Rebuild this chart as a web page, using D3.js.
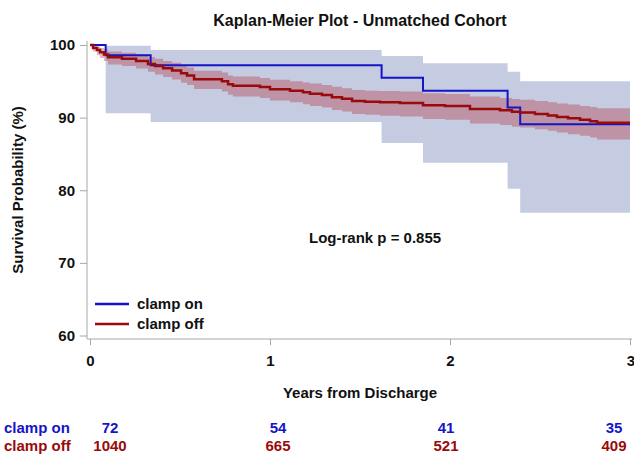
<!DOCTYPE html>
<html>
<head>
<meta charset="utf-8">
<script src="https://cdn.jsdelivr.net/npm/d3@7"></script>
<style>
  body { margin: 0; background: #fff; }
  text { font-family: "Liberation Sans", Arial, sans-serif; font-weight: bold; }
</style>
</head>
<body>
<svg id="canvas" width="634" height="455"></svg>
<script>
const svg = d3.select("#canvas");

// clamp on (n=72) - KM estimate and CI
const onTimes = [0, 0.087, 0.337, 1.62, 1.85, 2.32, 2.39];
const onSurv  = [100, 98.6, 97.2, 95.5, 93.7, 91.4, 89.1];
const onLower = [100, 90.6, 89.4, 86.5, 83.8, 80.2, 76.9];
const onUpper = [100, 99.9, 99.3, 98.5, 97.5, 96.3, 95.0];

// clamp off (n=1040)
const offTimes = [0, 0.017, 0.039, 0.056, 0.078, 0.1, 0.178, 0.256, 0.322, 0.361, 0.406, 0.456, 0.506, 0.539, 0.578,
  0.733, 0.767, 0.794, 0.944, 1.0, 1.111, 1.183, 1.222, 1.289, 1.344, 1.4, 1.456, 1.528, 1.611, 1.722, 1.85,
  1.972, 2.111, 2.278, 2.344, 2.389, 2.472, 2.544, 2.594, 2.656, 2.722, 2.778, 2.817];
const offSurv = [100, 99.6, 99.3, 99.0, 98.7, 98.3, 98.1, 97.8, 97.4, 97.1, 96.8, 96.5, 96.1, 95.8, 95.3,
  95.0, 94.6, 94.4, 94.2, 93.9, 93.7, 93.5, 93.3, 93.1, 92.8, 92.6, 92.3, 92.2, 92.1, 92.0, 91.7,
  91.6, 91.2, 91.0, 90.8, 90.7, 90.5, 90.3, 90.1, 89.9, 89.7, 89.5, 89.3];
const offUpper = [100, 99.9, 99.8, 99.6, 99.4, 99.1, 98.95, 98.7, 98.35, 98.1, 97.8, 97.55, 97.2, 96.9, 96.45,
  96.2, 95.8, 95.65, 95.45, 95.2, 95.0, 94.85, 94.7, 94.5, 94.25, 94.05, 93.8, 93.7, 93.65, 93.6, 93.35,
  93.25, 92.9, 92.7, 92.55, 92.45, 92.3, 92.1, 91.95, 91.8, 91.6, 91.45, 91.3];
const offLower = [100, 99.1, 98.6, 98.2, 97.8, 97.3, 97.1, 96.75, 96.3, 95.95, 95.6, 95.25, 94.8, 94.5, 93.95,
  93.6, 93.15, 92.9, 92.7, 92.35, 92.1, 91.85, 91.6, 91.4, 91.05, 90.85, 90.5, 90.4, 90.25, 90.15, 89.8,
  89.7, 89.2, 89.0, 88.75, 88.65, 88.4, 88.2, 87.95, 87.7, 87.5, 87.25, 87.0];

const xTicks = [0, 1, 2, 3];
const yTicks = [60, 70, 80, 90, 100];
const riskTimes = [0, 1, 2, 3];
const riskOn = [72, 54, 41, 35];
const riskOff = [1040, 665, 521, 409];

const blue = "#1515c8", red = "#990a0a";

const x = d3.scaleLinear().domain([0, 3]).range([90, 630]);
const y = d3.scaleLinear().domain([60, 100]).range([335.5, 45]);
const xRisk = d3.scaleLinear().domain([0, 3]).range([110, 614]);

// build step rows, last one carried to t=3
function rows(times, s, lo, hi) {
  const r = times.map((t, i) => ({ t, s: s[i], lo: lo[i], hi: hi[i] }));
  const last = r[r.length - 1];
  r.push({ ...last, t: 3 });
  return r;
}
const onRows = rows(onTimes, onSurv, onLower, onUpper);
const offRows = rows(offTimes, offSurv, offLower, offUpper);

const band = d3.area().curve(d3.curveStepAfter)
  .x(d => x(d.t)).y0(d => y(d.lo)).y1(d => y(d.hi));
const line = d3.line().curve(d3.curveStepAfter)
  .x(d => x(d.t)).y(d => y(d.s));

// bands
svg.append("path").attr("d", band(onRows.slice(1))).attr("fill", "#c5cbe1");
svg.append("path").attr("d", band(offRows)).attr("fill", "#b5303c").attr("fill-opacity", 0.36);

// curves
svg.append("path").attr("d", line(onRows)).attr("fill", "none")
  .attr("stroke", blue).attr("stroke-width", 2);
svg.append("path").attr("d", line(offRows)).attr("fill", "none")
  .attr("stroke", red).attr("stroke-width", 2.5);

// axes
const axisColor = "#a8a8a8";
const yAxis = svg.append("g").attr("transform", "translate(87,0)")
  .call(d3.axisLeft(y).tickValues(yTicks).tickSize(7).tickPadding(5));
const xAxis = svg.append("g").attr("transform", "translate(0,339)")
  .call(d3.axisBottom(x).tickValues(xTicks).tickFormat(d3.format("d")).tickSize(6).tickPadding(10));
yAxis.select(".domain").attr("d", "M0,41V339");
xAxis.select(".domain").attr("d", "M87,0H632");
[yAxis, xAxis].forEach(a => {
  a.selectAll("path, line").attr("stroke", axisColor);
  a.selectAll("text").attr("font-size", 15).attr("fill", "#111")
    .attr("font-family", "Liberation Sans, Arial, sans-serif").attr("font-weight", "bold");
});
// keep last x label inside the frame
xAxis.selectAll(".tick text").filter(d => d === 3).attr("text-anchor", "end").attr("dx", "0.3em");

// titles
svg.append("text").attr("x", 360).attr("y", 26).attr("text-anchor", "middle")
  .attr("font-size", 16).attr("fill", "#111").text("Kaplan-Meier Plot - Unmatched Cohort");
svg.append("text").attr("transform", "translate(23,190) rotate(-90)").attr("text-anchor", "middle")
  .attr("font-size", 15).attr("fill", "#111").text("Survival Probability (%)");
svg.append("text").attr("x", 360).attr("y", 398).attr("text-anchor", "middle")
  .attr("font-size", 15).attr("fill", "#111").text("Years from Discharge");
svg.append("text").attr("x", 309).attr("y", 243)
  .attr("font-size", 15).attr("fill", "#111").text("Log-rank p = 0.855");

// legend
const legend = [{ name: "clamp on", color: blue, yy: 304 }, { name: "clamp off", color: red, yy: 324 }];
legend.forEach(l => {
  svg.append("line").attr("x1", 95).attr("x2", 129).attr("y1", l.yy).attr("y2", l.yy)
    .attr("stroke", l.color).attr("stroke-width", 2.5);
  svg.append("text").attr("x", 137).attr("y", l.yy + 5).attr("font-size", 15)
    .attr("fill", "#111").text(l.name);
});

// number at risk
const risk = [{ name: "clamp on", vals: riskOn, color: blue, yy: 433 },
              { name: "clamp off", vals: riskOff, color: red, yy: 451 }];
risk.forEach(r => {
  svg.append("text").attr("x", 4).attr("y", r.yy).attr("font-size", 15)
    .attr("fill", r.color).text(r.name);
  svg.selectAll(null).data(r.vals).enter().append("text")
    .attr("x", (d, i) => xRisk(riskTimes[i])).attr("y", r.yy)
    .attr("text-anchor", "middle").attr("font-size", 15)
    .attr("fill", r.color).text(d => d);
});
</script>
</body>
</html>
